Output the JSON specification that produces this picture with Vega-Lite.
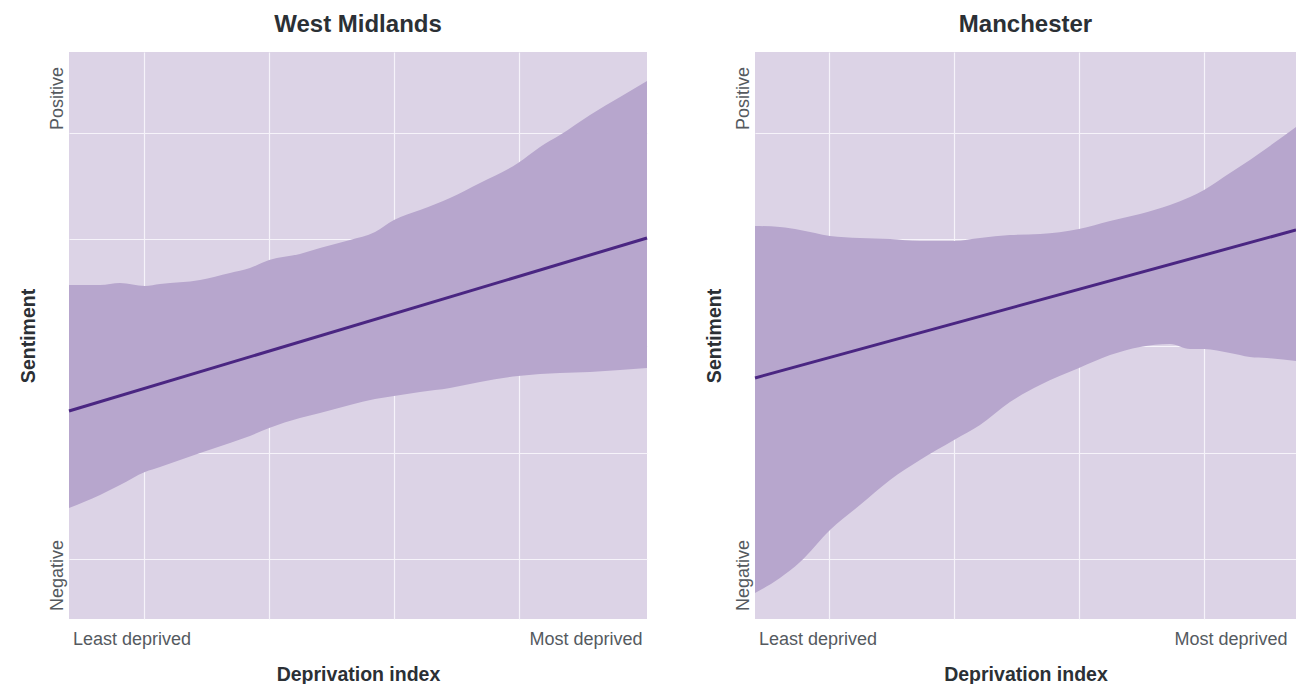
{
  "$schema": "https://vega.github.io/schema/vega-lite/v6.json",
  "background": "white",
  "padding": {"left": 18, "top": 13, "right": 0, "bottom": 0},
  "spacing": 51,
  "config": {
    "font": "Liberation Sans",
    "view": {"fill": "#dcd3e6", "stroke": null},
    "title": {"fontSize": 24, "fontWeight": "bold", "color": "#2b3035", "anchor": "middle", "baseline": "alphabetic", "offset": 15},
    "axis": {
      "domain": false,
      "ticks": false,
      "grid": true,
      "gridColor": "#f6f3fa",
      "gridWidth": 1.2,
      "zindex": 1,
      "labelFontSize": 18,
      "labelColor": "#555a5f",
      "titleFontSize": 19.5,
      "titleFontWeight": "bold",
      "titleColor": "#2b3035"
    },
    "axisX": {"labelPadding": 11, "titlePadding": 17},
    "axisY": {"labelPadding": 7, "titlePadding": 10, "labelAngle": -90, "labelAlign": "center", "labelBaseline": "alphabetic"}
  },
  "datasets": {
    "wmBand": [
      {"x": 0.395, "lo": -1.521, "hi": 0.573},
      {"x": 0.644, "lo": -1.399, "hi": 0.573},
      {"x": 0.804, "lo": -1.305, "hi": 0.592},
      {"x": 1.004, "lo": -1.183, "hi": 0.563},
      {"x": 1.125, "lo": -1.136, "hi": 0.582},
      {"x": 1.446, "lo": -1.005, "hi": 0.62},
      {"x": 1.686, "lo": -0.911, "hi": 0.685},
      {"x": 1.846, "lo": -0.845, "hi": 0.732},
      {"x": 2.0, "lo": -0.77, "hi": 0.808},
      {"x": 2.247, "lo": -0.676, "hi": 0.864},
      {"x": 2.408, "lo": -0.629, "hi": 0.92},
      {"x": 2.648, "lo": -0.554, "hi": 0.995},
      {"x": 2.849, "lo": -0.498, "hi": 1.07},
      {"x": 3.001, "lo": -0.469, "hi": 1.183},
      {"x": 3.21, "lo": -0.432, "hi": 1.277},
      {"x": 3.45, "lo": -0.394, "hi": 1.39},
      {"x": 3.691, "lo": -0.338, "hi": 1.531},
      {"x": 3.996, "lo": -0.282, "hi": 1.718},
      {"x": 4.172, "lo": -0.263, "hi": 1.869},
      {"x": 4.332, "lo": -0.254, "hi": 1.981},
      {"x": 4.573, "lo": -0.244, "hi": 2.169},
      {"x": 4.814, "lo": -0.225, "hi": 2.338},
      {"x": 5.03, "lo": -0.207, "hi": 2.488}
    ],
    "wmLine": [
      {"x": 0.395, "y": -0.61},
      {"x": 5.03, "y": 1.014}
    ],
    "mcBand": [
      {"x": 0.405, "lo": -2.319, "hi": 1.127},
      {"x": 0.605, "lo": -2.178, "hi": 1.117},
      {"x": 0.766, "lo": -2.028, "hi": 1.089},
      {"x": 1.006, "lo": -1.728, "hi": 1.033},
      {"x": 1.246, "lo": -1.493, "hi": 1.014},
      {"x": 1.487, "lo": -1.258, "hi": 1.005},
      {"x": 1.727, "lo": -1.07, "hi": 0.986},
      {"x": 2.0, "lo": -0.883, "hi": 0.986},
      {"x": 2.208, "lo": -0.742, "hi": 1.014},
      {"x": 2.448, "lo": -0.526, "hi": 1.042},
      {"x": 2.689, "lo": -0.366, "hi": 1.052},
      {"x": 3.001, "lo": -0.207, "hi": 1.099},
      {"x": 3.25, "lo": -0.085, "hi": 1.174},
      {"x": 3.49, "lo": -0.009, "hi": 1.239},
      {"x": 3.73, "lo": 0.019, "hi": 1.324},
      {"x": 3.891, "lo": -0.028, "hi": 1.399},
      {"x": 4.003, "lo": -0.028, "hi": 1.465},
      {"x": 4.211, "lo": -0.066, "hi": 1.624},
      {"x": 4.371, "lo": -0.103, "hi": 1.746},
      {"x": 4.508, "lo": -0.113, "hi": 1.859},
      {"x": 4.74, "lo": -0.141, "hi": 2.056}
    ],
    "mcLine": [
      {"x": 0.405, "y": -0.3},
      {"x": 4.74, "y": 1.089}
    ]
  },
  "hconcat": [
    {
      "width": 578,
      "height": 567,
      "title": "West Midlands",
      "layer": [
        {
          "data": {"name": "wmBand"},
          "mark": {"type": "area", "color": "#b7a6cd", "opacity": 1, "interpolate": "monotone"},
          "encoding": {
            "x": {"field": "x", "type": "quantitative", "title": "Deprivation index",
              "scale": {"domain": [0.395, 5.03], "nice": false, "zero": false},
              "axis": {"values": [0.896, 1, 2, 3, 4, 4.537],
                "labelExpr": "datum.value < 0.95 ? 'Least deprived' : datum.value > 4.2 ? 'Most deprived' : ''",
                "gridOpacity": {"condition": {"test": "datum.value < 0.95 || datum.value > 4.2", "value": 0}, "value": 1}}},
            "y": {"field": "lo", "type": "quantitative", "title": "Sentiment",
              "scale": {"domain": [-2.563, 2.76], "nice": false, "zero": false},
              "axis": {"values": [-2.15, -2, -1, 0, 1, 2, 2.329],
                "labelExpr": "datum.value > 2.1 ? 'Positive' : datum.value < -2.1 ? 'Negative' : ''",
                "gridOpacity": {"condition": {"test": "datum.value > 2.1 || datum.value < -2.1", "value": 0}, "value": 1}}},
            "y2": {"field": "hi"}
          }
        },
        {
          "data": {"name": "wmLine"},
          "mark": {"type": "line", "color": "#4a2682", "strokeWidth": 3},
          "encoding": {
            "x": {"field": "x", "type": "quantitative", "scale": {"domain": [0.395, 5.03], "nice": false, "zero": false}},
            "y": {"field": "y", "type": "quantitative", "scale": {"domain": [-2.563, 2.76], "nice": false, "zero": false}}
          }
        }
      ]
    },
    {
      "width": 541,
      "height": 567,
      "title": "Manchester",
      "layer": [
        {
          "data": {"name": "mcBand"},
          "mark": {"type": "area", "color": "#b7a6cd", "opacity": 1, "interpolate": "monotone"},
          "encoding": {
            "x": {"field": "x", "type": "quantitative", "title": "Deprivation index",
              "scale": {"domain": [0.405, 4.74], "nice": false, "zero": false},
              "axis": {"values": [0.906, 1, 2, 3, 4, 4.215],
                "labelExpr": "datum.value < 0.95 ? 'Least deprived' : datum.value > 4.1 ? 'Most deprived' : ''",
                "gridOpacity": {"condition": {"test": "datum.value < 0.95 || datum.value > 4.1", "value": 0}, "value": 1}}},
            "y": {"field": "lo", "type": "quantitative", "title": "Sentiment",
              "scale": {"domain": [-2.563, 2.76], "nice": false, "zero": false},
              "axis": {"values": [-2.15, -2, -1, 0, 1, 2, 2.329],
                "labelExpr": "datum.value > 2.1 ? 'Positive' : datum.value < -2.1 ? 'Negative' : ''",
                "gridOpacity": {"condition": {"test": "datum.value > 2.1 || datum.value < -2.1", "value": 0}, "value": 1}}},
            "y2": {"field": "hi"}
          }
        },
        {
          "data": {"name": "mcLine"},
          "mark": {"type": "line", "color": "#4a2682", "strokeWidth": 3},
          "encoding": {
            "x": {"field": "x", "type": "quantitative", "scale": {"domain": [0.405, 4.74], "nice": false, "zero": false}},
            "y": {"field": "y", "type": "quantitative", "scale": {"domain": [-2.563, 2.76], "nice": false, "zero": false}}
          }
        }
      ]
    }
  ]
}
